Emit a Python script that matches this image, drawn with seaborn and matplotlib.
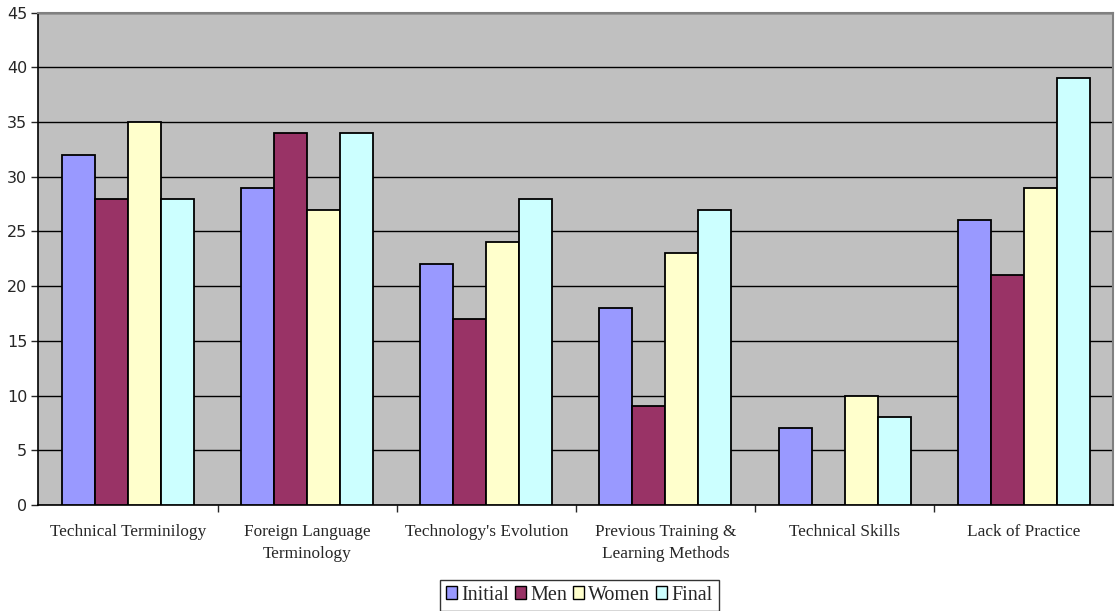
import matplotlib
matplotlib.use("Agg")
import matplotlib.pyplot as plt
import pandas as pd
import seaborn as sns

categories = [
    "Technical Terminilogy",
    "Foreign Language\nTerminology",
    "Technology's Evolution",
    "Previous Training &\nLearning Methods",
    "Technical Skills",
    "Lack of Practice",
]
series_names = ["Initial", "Men", "Women", "Final"]
initial = [32, 29, 22, 18, 7, 26]
men = [28, 34, 17, 9, 0, 21]
women = [35, 27, 24, 23, 10, 29]
final = [28, 34, 28, 27, 8, 39]
y_ticks = list(range(0, 50, 5))

colors = ["#9999FF", "#993366", "#FFFFCC", "#CCFFFF"]

rows = []
for name, vals in zip(series_names, [initial, men, women, final]):
    for cat, v in zip(categories, vals):
        rows.append({"category": cat, "series": name, "value": v})
df = pd.DataFrame(rows)

sns.set_style("white")
plt.rcParams["font.family"] = ["DejaVu Sans"]

fig = plt.figure(figsize=(11.15, 6.11), dpi=100)
ax = fig.add_axes([0.0345, 0.1735, 0.964, 0.806])
ax.set_facecolor("#C0C0C0")

sns.barplot(
    data=df, x="category", y="value", hue="series",
    order=categories, hue_order=series_names, palette=colors,
    width=0.737, edgecolor="black", linewidth=1.3, saturation=1,
    errorbar=None, ax=ax, zorder=3,
)

ax.set_ylim(0, 45)
ax.set_xlim(-0.5, len(categories) - 0.5)
ax.set_yticks(y_ticks)
ax.set_yticklabels([str(t) for t in y_ticks], fontsize=11.5)
ax.yaxis.grid(True, color="black", linewidth=1.0, zorder=1)
ax.set_axisbelow(True)
ax.tick_params(axis="y", direction="out", length=5, width=1, left=True, pad=3)

# category labels centered, tick marks between groups
ax.set_xticks(range(len(categories)))
ax.set_xticklabels(categories, fontfamily="Liberation Serif", fontsize=12.4,
                   linespacing=1.45)
ax.tick_params(axis="x", length=0, pad=14)
ax.set_xticks([i + 0.5 for i in range(len(categories) - 1)], minor=True)
ax.tick_params(axis="x", which="minor", direction="out", length=5, width=1, bottom=True)
ax.set_xlabel("")
ax.set_ylabel("")

for side in ["left", "bottom"]:
    ax.spines[side].set_color("black")
    ax.spines[side].set_linewidth(1.2)
ax.spines["top"].set_color("#808080")
ax.spines["top"].set_linewidth(1.5)
ax.spines["right"].set_color("#808080")
ax.spines["right"].set_linewidth(1.5)

handles, labels = ax.get_legend_handles_labels()
ax.legend_.remove()
leg = fig.legend(
    handles, labels, loc="center", bbox_to_anchor=(0.5197, 0.026), ncol=4,
    frameon=True, fancybox=False, edgecolor="black", handlelength=0.55,
    handleheight=0.55, handletextpad=0.2, columnspacing=0.3, borderpad=0.3,
    borderaxespad=0, prop={"family": "Liberation Serif", "size": 14.5},
)
leg.get_frame().set_linewidth(1.0)
for h in leg.legend_handles:
    h.set_edgecolor("black")
    h.set_linewidth(1.0)

fig.savefig("out.png", dpi=100)
